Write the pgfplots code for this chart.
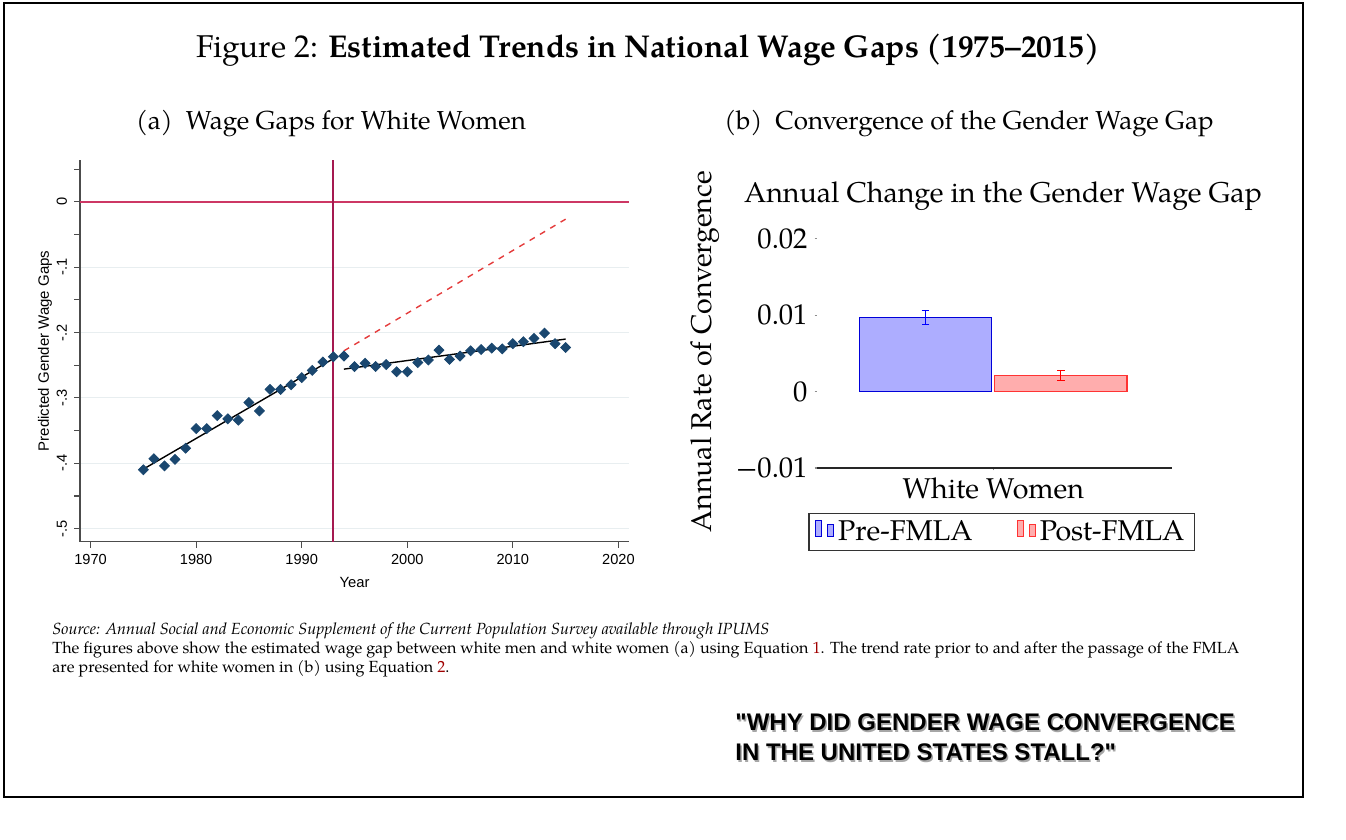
\documentclass[border=0pt]{standalone}
\usepackage{fontspec}
\setmainfont{TeX Gyre Pagella}
\newfontfamily\arial{Liberation Sans}
\usepackage{pgfplots}
\pgfplotsset{compat=1.18}
\definecolor{navy}{RGB}{26,71,111}
\definecolor{hline}{RGB}{205,55,100}
\definecolor{vline}{RGB}{165,25,80}
\definecolor{dashc}{RGB}{228,60,60}
\definecolor{gridc}{RGB}{232,238,240}
\definecolor{eqred}{RGB}{160,0,0}
\begin{document}
\begin{tikzpicture}
\path[use as bounding box] (0,0) rectangle (673pt,420pt);
% ---------------- left panel ----------------
\begin{axis}[
  at={(40pt,149.15pt)}, anchor=south west, scale only axis,
  width=274.5pt, height=190.85pt,
  xmin=1969, xmax=2021, ymin=-0.52, ymax=0.064,
  axis x line*=bottom, axis y line*=left,
  axis line style={black!70, line width=0.7pt},
  tick align=outside, major tick length=3pt, minor tick length=3pt,
  tick style={black!70, line width=0.6pt},
  xtick={1970,1980,1990,2000,2010,2020},
  xticklabels={1970,1980,1990,2000,2010,2020},
  ytick={-0.5,-0.4,-0.3,-0.2,-0.1,0},
  yticklabels={-.5,-.4,-.3,-.2,-.1,0},
  minor ytick={-0.45,-0.35,-0.25,-0.15,-0.05,0.05},
  ymajorgrids, grid style={gridc, line width=0.6pt},
  tick label style={font=\arial\fontsize{7.3}{8}\selectfont},
  yticklabel style={rotate=90, anchor=south},
  xlabel={Year}, ylabel={Predicted Gender Wage Gaps},
  every axis x label/.style={at={(axis description cs:0.5,-0.108)}, anchor=center, font=\arial\fontsize{7.4}{8}\selectfont},
  every axis y label/.style={at={(axis description cs:-0.0638,0.5)}, rotate=90, anchor=center, font=\arial\fontsize{7.5}{8}\selectfont},
]
\addplot[hline, line width=0.9pt] coordinates {(1969,0) (2021,0)};
\addplot[vline, line width=0.9pt] coordinates {(1993,-0.52) (1993,0.064)};
\addplot[dashc, dashed, line width=0.7pt] coordinates {(1994,-0.228) (2015,-0.0265)};
\addplot[black, line width=0.7pt] coordinates {(1975,-0.409) (1993,-0.240)};
\addplot[black, line width=0.7pt] coordinates {(1994,-0.256) (2015,-0.210)};
\addplot[only marks, mark=square*, mark size=1.75pt, mark options={rotate=45, fill=navy, draw=navy}]
coordinates {
(1975,-0.410) (1976,-0.393) (1977,-0.404) (1978,-0.394) (1979,-0.377)
(1980,-0.347) (1981,-0.347) (1982,-0.327) (1983,-0.332) (1984,-0.334)
(1985,-0.307) (1986,-0.320) (1987,-0.287) (1988,-0.287) (1989,-0.280)
(1990,-0.269) (1991,-0.258) (1992,-0.245) (1993,-0.237) (1994,-0.236)
(1995,-0.252) (1996,-0.247) (1997,-0.252) (1998,-0.249) (1999,-0.260)
(2000,-0.260) (2001,-0.246) (2002,-0.242) (2003,-0.227) (2004,-0.241)
(2005,-0.236) (2006,-0.228) (2007,-0.226) (2008,-0.224) (2009,-0.225)
(2010,-0.217) (2011,-0.214) (2012,-0.209) (2013,-0.201) (2014,-0.217)
(2015,-0.223)
};
\end{axis}
% ---------------- right panel ----------------
\begin{axis}[
  at={(408.5pt,186pt)}, anchor=south west, scale only axis,
  width=177.5pt, height=114.65pt,
  xmin=-176.3, xmax=178.7, ymin=-0.01, ymax=0.02,
  scaled y ticks=false,
  axis x line*=bottom, axis y line*=left,
  y axis line style={draw=none},
  x axis line style={black!85, line width=0.8pt},
  tick align=outside, major tick length=1.2pt,
  tick style={black!45, line width=0.6pt},
  xtick={0}, xticklabels={White Women},
  ytick={-0.01,0,0.01,0.02}, yticklabels={−0.01,0,0.01,0.02},
  tick label style={font=\fontsize{14.3}{16}\selectfont},
  ybar legend,
  legend style={at={(0.52,-0.196)}, anchor=north, legend columns=2,
    draw=black!80, line width=0.7pt, font=\fontsize{14.3}{16}\selectfont,
    inner xsep=3pt, inner ysep=1.5pt,
    /tikz/every even column/.append style={column sep=20pt}},
  clip=false,
]
\addplot[ybar, bar width=132.4, bar shift=0pt, fill=blue!32, draw=blue!85!black, line width=0.6pt,
  error bars/.cd, y dir=both, y explicit,
  error bar style={blue, line width=0.6pt},
  error mark options={rotate=90, mark size=1.9pt, blue, line width=0.6pt}]
  coordinates {(-67.8,0.0097) +- (0,0.0009)};
\addplot[ybar, bar width=132.4, bar shift=0pt, fill=red!32, draw=red!80, line width=0.6pt,
  error bars/.cd, y dir=both, y explicit,
  error bar style={red, line width=0.6pt},
  error mark options={rotate=90, mark size=1.9pt, red, line width=0.6pt}]
  coordinates {(67.5,0.0021) +- (0,0.0007)};
\legend{Pre-FMLA, Post-FMLA}
\end{axis}
% ---------------- texts ----------------
\begin{scope}[x=0.5pt, y=-0.5pt, yshift=420pt]
\draw[line width=1.25pt] (4,3) rectangle (1303,797);
\node[font=\fontsize{15.75}{18}\selectfont] at (648,50) {Figure 2: \textbf{Estimated Trends in National Wage Gaps (1975–2015)}};
\node[font=\fontsize{13}{16}\selectfont] at (331,124) {(a)\enspace Wage Gaps for White Women};
\node[font=\fontsize{13}{16}\selectfont] at (969,124) {(b)\enspace Convergence of the Gender Wage Gap};
\node[font=\fontsize{14.3}{16}\selectfont] at (1003,196) {Annual Change in the Gender Wage Gap};
\node[font=\fontsize{14.3}{16}\selectfont, rotate=90] at (705,352) {Annual Rate of Convergence};
\begin{scope}[every node/.style={anchor=base west, inner sep=0pt, font=\fontsize{8.07}{10}\selectfont}]
\node at (52,635) {\textit{Source: Annual Social and Economic Supplement of the Current Population Survey available through IPUMS}};
\node at (52,654) {The figures above show the estimated wage gap between white men and white women (a) using Equation \textcolor{eqred}{1}. The trend rate prior to and after the passage of the FMLA};
\node at (52,673) {are presented for white women in (b) using Equation \textcolor{eqred}{2}.};
\end{scope}
\begin{scope}[every node/.style={anchor=base west, inner sep=0pt, font=\arial\bfseries\fontsize{12}{14}\selectfont}]
\node[text=black!35] at (736.5,732.5) {"WHY DID GENDER WAGE CONVERGENCE};
\node[text=black!35] at (736.5,762.5) {IN THE UNITED STATES STALL?"};
\node at (735,731) {"WHY DID GENDER WAGE CONVERGENCE};
\node at (735,761) {IN THE UNITED STATES STALL?"};
\end{scope}
\end{scope}
\end{tikzpicture}
\end{document}
